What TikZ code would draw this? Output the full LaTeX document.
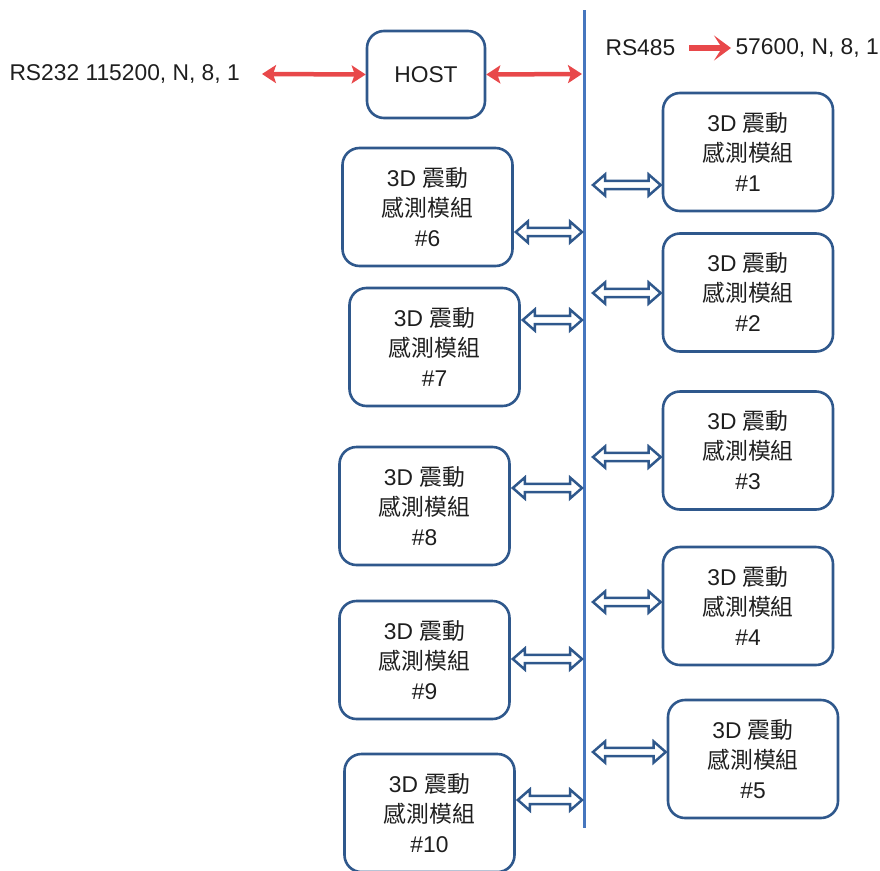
\documentclass[tikz,border=0pt]{standalone}
\usepackage{fontspec}
\setmainfont{Liberation Sans}
\newfontfamily\cjk{Noto Sans CJK TC}
\usetikzlibrary{arrows.meta}
\definecolor{boxblue}{RGB}{47,88,140}
\definecolor{busblue}{RGB}{70,118,190}
\definecolor{arrred}{RGB}{232,72,74}
\definecolor{txt}{RGB}{30,30,30}
\begin{document}
\begin{tikzpicture}[x=1pt,y=-1pt,
  every node/.style={text=txt,font=\fontsize{22.8}{30}\selectfont},
  modbox/.style={draw=boxblue,line width=2.6pt,rounded corners=17pt,minimum width=170pt,minimum height=118pt,align=center,inner sep=0pt},
  hostbox/.style={draw=boxblue,line width=2.6pt,rounded corners=17pt,minimum width=118pt,minimum height=87pt,inner sep=0pt},
  linkarrow/.style={draw=boxblue,fill=white,line width=2.5pt,line join=miter,
    to path={(\tikztostart)
      -- ([xshift=12pt,yshift=10.5pt]\tikztostart)
      -- ([xshift=12pt,yshift=4.2pt]\tikztostart)
      -- ([xshift=-12pt,yshift=4.2pt]\tikztotarget)
      -- ([xshift=-12pt,yshift=10.5pt]\tikztotarget)
      -- (\tikztotarget)
      -- ([xshift=-12pt,yshift=-10.5pt]\tikztotarget)
      -- ([xshift=-12pt,yshift=-4.2pt]\tikztotarget)
      -- ([xshift=12pt,yshift=-4.2pt]\tikztostart)
      -- ([xshift=12pt,yshift=-10.5pt]\tikztostart)
      -- cycle}},
  redarrow/.style={draw=arrred,line width=4.5pt,{Stealth[length=14pt,width=18pt,inset=3pt]}-{Stealth[length=14pt,width=18pt,inset=3pt]}}
]
\useasboundingbox (0,0) rectangle (880,870);
% bus
\coordinate (bustop) at (584,10);
\coordinate (busbot) at (584,828);
\draw[busblue,line width=3pt] (bustop) -- (busbot);
% host
\node[hostbox] (host) at (426,74.5) {HOST};
\node[anchor=west] (rs232) at (6,74) {RS232 115200, N, 8, 1};
\coordinate (hl) at (262,74);
\coordinate (hr) at (582,74);
\draw[redarrow] (hl) -- (host.west);
\draw[redarrow] (host.east) -- (hr);
\node[anchor=west] (rs485) at (602,48) {RS485};
\node[anchor=west] (baud) at (732,48) {57600, N, 8, 1};
\coordinate (ra) at (689,48);
\draw[arrred,line width=6.5pt,-{Stealth[length=17pt,width=25pt,inset=8pt]}] (ra) -- ([xshift=-1pt]baud.west);
% right modules
\newcommand{\modtext}[1]{3D {\cjk 震動}\\{\cjk 感測模組}\\\##1}
\node[modbox] (m1) at (748,152) {\modtext{1}};
\node[modbox] (m2) at (748,292.5) {\modtext{2}};
\node[modbox] (m3) at (748,450.5) {\modtext{3}};
\node[modbox] (m4) at (748,606) {\modtext{4}};
\node[modbox] (m5) at (753,759) {\modtext{5}};
% left modules
\node[modbox] (m6) at (427.5,207) {\modtext{6}};
\node[modbox] (m7) at (434.5,347) {\modtext{7}};
\node[modbox] (m8) at (424.5,506) {\modtext{8}};
\node[modbox] (m9) at (424.5,660) {\modtext{9}};
\node[modbox] (m10) at (429.5,813) {\modtext{10}};
% right links
\foreach \m/\y in {m1/185,m2/293,m3/457,m4/602,m5/752}{
  \coordinate (b\m) at (593,\y);
  \draw[linkarrow] (b\m) to ([xshift=-1pt]b\m -| \m.west);
}
% left links
\foreach \m/\y in {m6/232,m7/320,m8/488,m9/659,m10/800}{
  \coordinate (b\m) at (582,\y);
  \draw[linkarrow] ([xshift=2pt]\m.east |- b\m) to (b\m);
}
\end{tikzpicture}
\end{document}
